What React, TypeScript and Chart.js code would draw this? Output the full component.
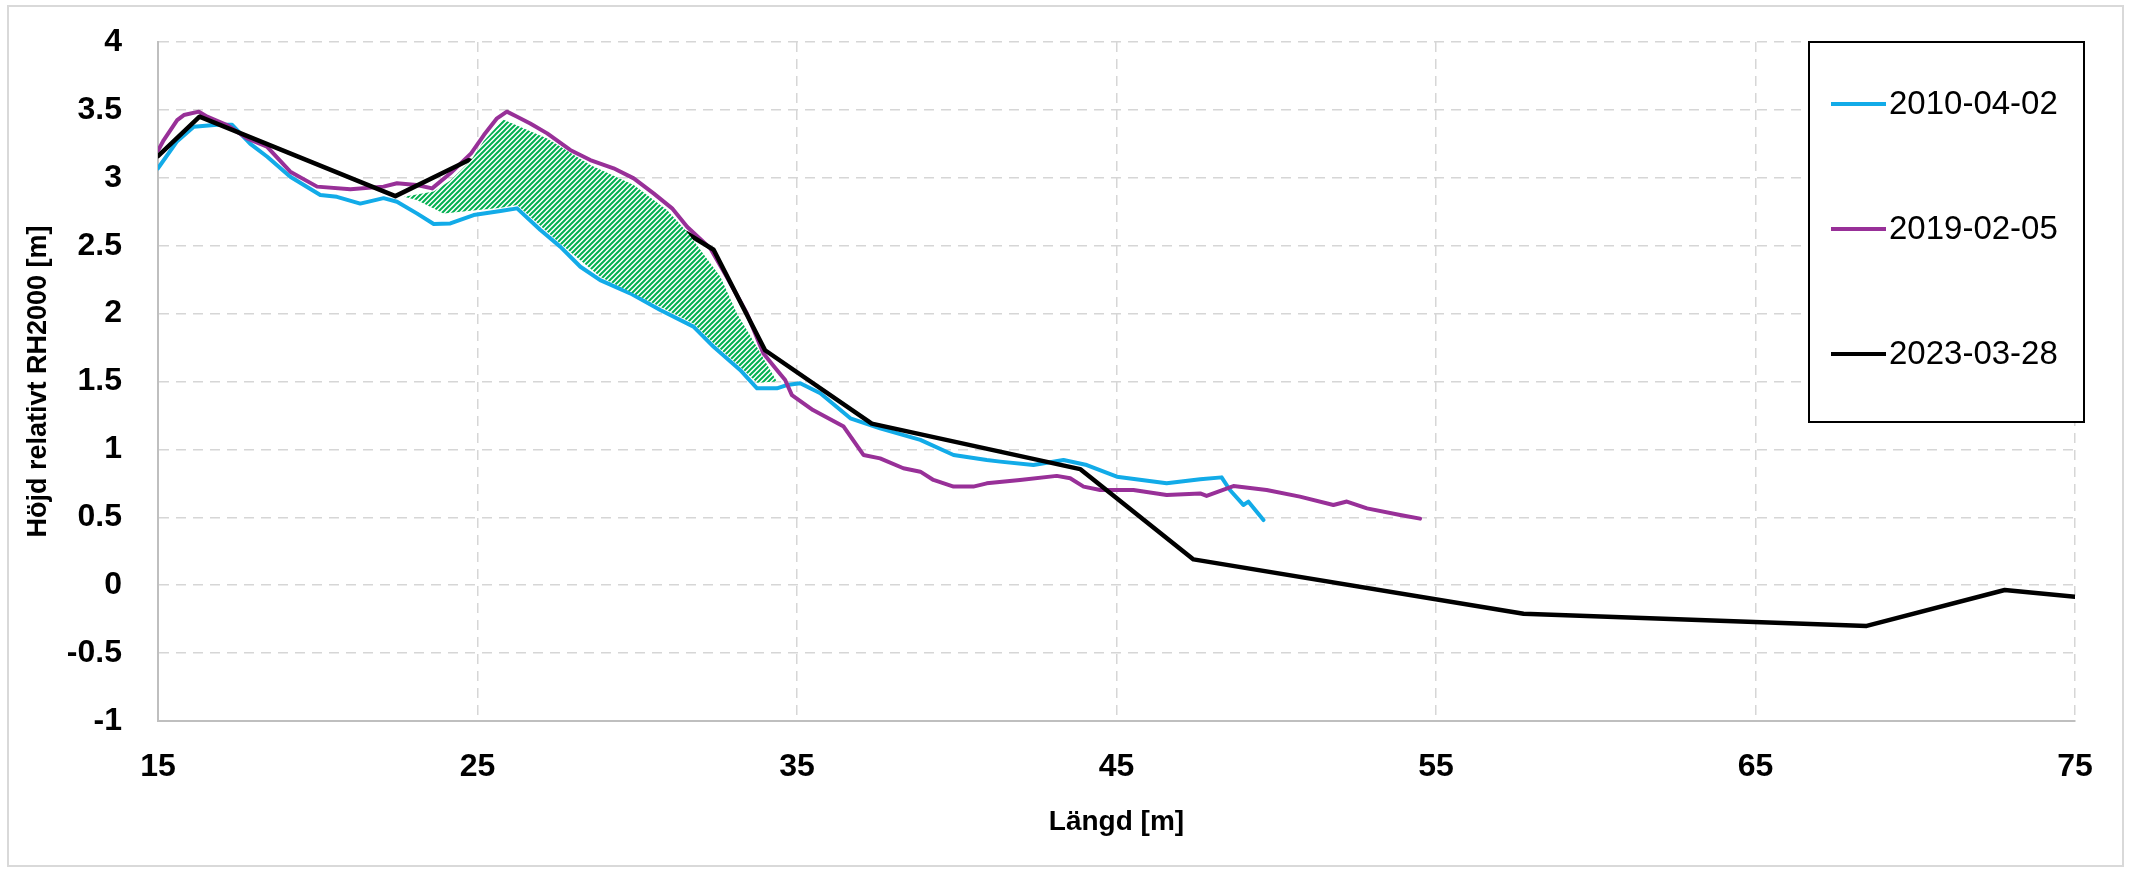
import React, { useEffect, useRef } from 'react';
import { Chart, registerables } from 'chart.js';

Chart.register(...registerables);

const W = 2129;
const H = 873;

const xTicks = [15, 25, 35, 45, 55, 65, 75];
const yTicks = [-1, -0.5, 0, 0.5, 1, 1.5, 2, 2.5, 3, 3.5, 4];

const seriesNames = ['2010-04-02', '2019-02-05', '2023-03-28'];
const seriesColors = ['#12ABE8', '#983098', '#000000'];

const x2010 = [15.0, 15.6, 16.12, 16.85, 17.32, 17.89, 18.42, 19.14, 20.08, 20.6, 21.33, 22.06, 22.48, 23.1, 23.63, 24.15, 24.88, 25.72, 26.24, 26.97, 27.59, 28.22, 28.84, 29.78, 30.72, 31.76, 32.39, 33.22, 33.75, 34.37, 34.68, 35.1, 35.73, 36.67, 37.6, 38.86, 39.9, 40.94, 41.36, 42.4, 43.34, 44.07, 45.01, 46.57, 47.62, 48.29, 48.55, 48.97, 49.13, 49.6];
const y2010 = [3.07, 3.27, 3.376, 3.39, 3.39, 3.25, 3.155, 3.008, 2.873, 2.86, 2.81, 2.85, 2.824, 2.738, 2.66, 2.664, 2.726, 2.755, 2.775, 2.615, 2.493, 2.345, 2.247, 2.149, 2.026, 1.904, 1.756, 1.585, 1.45, 1.45, 1.474, 1.487, 1.413, 1.229, 1.155, 1.07, 0.959, 0.922, 0.91, 0.885, 0.922, 0.885, 0.799, 0.75, 0.78, 0.794, 0.701, 0.591, 0.615, 0.48];

const x2019 = [15.0, 15.18, 15.6, 15.81, 16.28, 16.54, 17.16, 17.79, 18.41, 19.14, 19.98, 21.02, 22.06, 22.48, 23.1, 23.58, 24.15, 24.8, 25.2, 25.61, 25.92, 26.24, 26.65, 27.18, 27.9, 28.53, 29.26, 29.89, 30.51, 31.09, 31.56, 32.29, 32.8, 33.43, 33.95, 34.37, 34.63, 34.84, 35.5, 36.46, 37.08, 37.6, 38.33, 38.86, 39.27, 39.9, 40.52, 40.94, 41.98, 43.13, 43.55, 43.97, 44.49, 45.53, 46.57, 47.62, 47.82, 48.66, 49.7, 50.74, 51.79, 52.21, 52.84, 53.88, 54.5];
const y2019 = [3.2, 3.278, 3.425, 3.462, 3.487, 3.45, 3.389, 3.29, 3.229, 3.045, 2.935, 2.915, 2.935, 2.96, 2.947, 2.922, 3.033, 3.18, 3.315, 3.438, 3.487, 3.45, 3.4, 3.327, 3.205, 3.131, 3.07, 2.996, 2.885, 2.775, 2.64, 2.48, 2.272, 2.002, 1.707, 1.585, 1.511, 1.4, 1.29, 1.168, 0.959, 0.934, 0.861, 0.836, 0.775, 0.726, 0.726, 0.75, 0.775, 0.805, 0.787, 0.726, 0.701, 0.701, 0.664, 0.676, 0.657, 0.73, 0.701, 0.652, 0.591, 0.616, 0.566, 0.517, 0.49];

const x2023 = [15, 16.3, 22.43, 24.72, 31.56, 32.39, 34.0, 37.34, 43.86, 47.41, 57.74, 68.48, 72.8, 75];
const y2023 = [3.16, 3.45, 2.865, 3.13, 2.59, 2.47, 1.73, 1.19, 0.855, 0.19, -0.21, -0.3, -0.035, -0.085];

// hatched erosion area (closed polygon outline)
const xFill = [22.7, 23.63, 24.15, 24.8, 25.19, 25.8, 27.18, 28.53, 29.89, 30.93, 31.56, 32.6, 33.12, 33.74, 34.16, 34.37, 33.75, 33.22, 32.39, 31.76, 30.72, 28.84, 27.59, 26.24, 25.72, 25.09, 23.94, 23.1];
const yFill = [2.86, 2.9, 2.98, 3.13, 3.27, 3.43, 3.29, 3.094, 2.947, 2.763, 2.6, 2.272, 2.0, 1.756, 1.585, 1.5, 1.49, 1.609, 1.781, 1.928, 2.051, 2.272, 2.517, 2.8, 2.78, 2.765, 2.738, 2.836];

const toPts = (xs: number[], ys: number[]) => xs.map((x, i) => ({ x, y: ys[i] }));

const FONT = "'Liberation Sans', Arial, sans-serif";

export default function App() {
  const ref = useRef<HTMLCanvasElement>(null);

  useEffect(() => {
    document.body.style.margin = '0';
    document.body.style.overflow = 'hidden';
    const canvas = ref.current!;
    const ctx = canvas.getContext('2d')!;

    const tile = document.createElement('canvas');
    tile.width = 5;
    tile.height = 5;
    const t = tile.getContext('2d')!;
    t.fillStyle = '#ffffff';
    t.fillRect(0, 0, 5, 5);
    t.strokeStyle = '#00B050';
    t.lineWidth = 2;
    t.beginPath();
    t.moveTo(-1, 1); t.lineTo(1, -1);
    t.moveTo(0, 5); t.lineTo(5, 0);
    t.moveTo(4, 6); t.lineTo(6, 4);
    t.stroke();
    const pattern = ctx.createPattern(tile, 'repeat');

    const framePlugin = {
      id: 'frame',
      beforeDraw(chart: any) {
        const c = chart.ctx;
        c.save();
        c.fillStyle = '#ffffff';
        c.fillRect(0, 0, W, H);
        c.strokeStyle = '#d9d9d9';
        c.lineWidth = 2;
        c.strokeRect(8, 6, 2115, 860);
        c.restore();
      },
    };

    const legendPlugin = {
      id: 'boxLegend',
      afterDraw(chart: any) {
        const c = chart.ctx;
        c.save();
        c.fillStyle = '#ffffff';
        c.fillRect(1809, 42, 275, 380);
        c.strokeStyle = '#000000';
        c.lineWidth = 2;
        c.strokeRect(1809, 42, 275, 380);
        const ys = [104, 229, 354];
        seriesNames.forEach((name, i) => {
          c.strokeStyle = seriesColors[i];
          c.lineWidth = 4;
          c.beginPath();
          c.moveTo(1831, ys[i]);
          c.lineTo(1886, ys[i]);
          c.stroke();
          c.fillStyle = '#000000';
          c.font = `33px ${FONT}`;
          c.textBaseline = 'middle';
          c.textAlign = 'left';
          c.fillText(name, 1889, ys[i] + 1);
        });
        c.restore();
      },
    };

    const chart = new Chart(canvas, {
      type: 'line',
      data: {
        datasets: [
          {
            label: 'area',
            data: toPts(xFill, yFill),
            borderWidth: 0,
            borderColor: 'rgba(0,0,0,0)',
            backgroundColor: pattern as any,
            fill: 'shape',
            pointRadius: 0,
          },
          {
            label: seriesNames[2],
            data: toPts(x2023, y2023),
            borderColor: seriesColors[2],
            borderWidth: 4.5,
            fill: false,
            pointRadius: 0,
          },
          {
            label: seriesNames[1],
            data: toPts(x2019, y2019),
            borderColor: seriesColors[1],
            borderWidth: 4,
            fill: false,
            pointRadius: 0,
          },
          {
            label: seriesNames[0],
            data: toPts(x2010, y2010),
            borderColor: seriesColors[0],
            borderWidth: 4,
            fill: false,
            pointRadius: 0,
          },
        ],
      },
      options: {
        responsive: false,
        animation: false,
        layout: { padding: { left: 14, right: 54, top: 42, bottom: 20 } },
        plugins: {
          legend: { display: false },
          tooltip: { enabled: false },
          filler: { propagate: false },
        },
        elements: { line: { tension: 0, borderJoinStyle: 'round', borderCapStyle: 'round' }, point: { radius: 0 } },
        scales: {
          x: {
            type: 'linear',
            min: 15,
            max: 75,
            afterBuildTicks: (s: any) => {
              s.ticks = xTicks.map((v) => ({ value: v }));
            },
            afterFit: (s: any) => {
              s.height = 132;
              s.paddingLeft = 0;
              s.paddingRight = 0;
            },
            grid: { color: '#d6d6d6', lineWidth: 1.5, drawTicks: false, tickLength: 0 },
            border: { display: true, color: '#bfbfbf', width: 2, dash: [10, 7] },
            ticks: {
              font: { family: FONT, size: 32, weight: 'bold' },
              color: '#000000',
              padding: 27,
              maxRotation: 0,
              autoSkip: false,
              callback: (v: any) => String(v),
            },
            title: {
              display: true,
              text: 'Längd [m]',
              color: '#000000',
              font: { family: FONT, size: 28, weight: 'bold' },
              padding: { top: 0, bottom: 14 },
            },
          },
          y: {
            type: 'linear',
            min: -1,
            max: 4,
            afterBuildTicks: (s: any) => {
              s.ticks = yTicks.map((v) => ({ value: v }));
            },
            afterFit: (s: any) => {
              s.width = 144;
              s.paddingTop = 0;
              s.paddingBottom = 0;
            },
            grid: { color: '#d6d6d6', lineWidth: 1.5, drawTicks: false, tickLength: 0 },
            border: { display: true, color: '#bfbfbf', width: 2, dash: [10, 7] },
            ticks: {
              font: { family: FONT, size: 32, weight: 'bold' },
              color: '#000000',
              padding: 36,
              autoSkip: false,
              callback: (v: any) => String(v),
            },
            title: {
              display: true,
              text: 'Höjd relativt RH2000 [m]',
              color: '#000000',
              font: { family: FONT, size: 27, weight: 'bold' },
              padding: { top: 8, bottom: 0 },
            },
          },
        },
      },
      plugins: [framePlugin, legendPlugin],
    } as any);

    return () => chart.destroy();
  }, []);

  return (
    <div style={{ width: W, height: H, position: 'relative' }}>
      <canvas ref={ref} width={W} height={H} style={{ display: 'block', width: W, height: H }} />
    </div>
  );
}
